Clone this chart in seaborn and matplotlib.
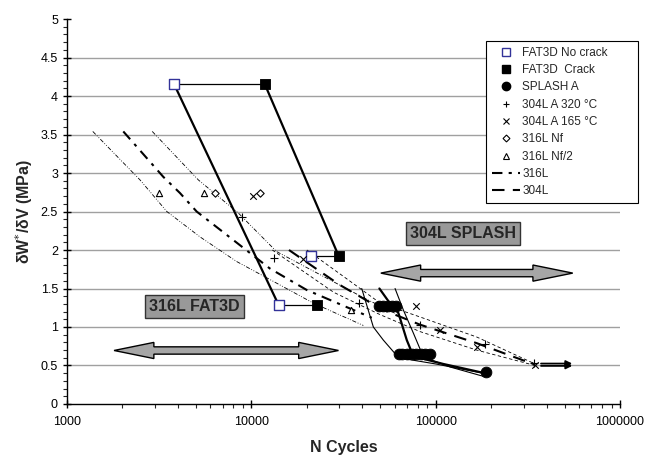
import matplotlib
matplotlib.use('Agg')
import matplotlib.pyplot as plt
import seaborn as sns
import numpy as np
from matplotlib.lines import Line2D
from matplotlib.patches import Polygon
from matplotlib.ticker import MultipleLocator, LogLocator, NullFormatter, FuncFormatter

# ---- data ----
# FAT3D tests (open = no crack, filled = crack)
nocrack_n = [3800, 21100, 14100]
nocrack_w = [4.16, 1.92, 1.28]
crack_n = [11800, 29800, 22700]
crack_w = [4.16, 1.92, 1.28]

# SPLASH A points
splash_n = [49500, 52000, 55400, 58000, 61000,
            63000, 66000, 70000, 74000, 78000, 83000, 88000, 93000, 188000]
splash_w = [1.27, 1.27, 1.27, 1.27, 1.27,
            0.65, 0.65, 0.65, 0.65, 0.65, 0.65, 0.65, 0.65, 0.41]

# SPLASH curves (thin solid + one thick)
splash_a_n = [39700, 45900, 52000, 57000, 63000, 100000, 180000]
splash_a_w = [1.50, 1.00, 0.83, 0.72, 0.60, 0.52, 0.40]
splash_b_n = [49500, 56000, 62800, 69700, 75700, 110000, 185000]
splash_b_w = [1.50, 1.32, 1.18, 0.83, 0.62, 0.52, 0.40]
splash_c_n = [60200, 66800, 75700, 85800, 120000, 181000]
splash_c_w = [1.50, 1.22, 0.92, 0.61, 0.48, 0.36]

# 304L A 320 C (+) and 165 C (x)
a320_n = [8870, 13300, 38400, 82300, 184000, 340000]
a320_w = [2.43, 1.90, 1.31, 1.03, 0.78, 0.53]
a165_n = [10200, 19000, 78300, 105600, 167000, 346000]
a165_w = [2.70, 1.88, 1.27, 0.96, 0.74, 0.50]

# 316L Nf (diamond) and Nf/2 (triangle)
nf_n = [6350, 11100]
nf_w = [2.74, 2.74]
nf2_n = [3170, 5560, 34800]
nf2_w = [2.74, 2.74, 1.22]

# 316L curves: mean (thick dash-dot) and bounds (thin)
l316_n = [2020, 3330, 4100, 5050, 7980, 12600, 20000, 34300, 45000]
l316_w = [3.54, 2.95, 2.74, 2.50, 2.13, 1.76, 1.48, 1.24, 1.12]
l316_lo_n = [1380, 2490, 3480, 5270, 8330, 13700, 21700, 40500]
l316_lo_w = [3.54, 2.91, 2.50, 2.17, 1.85, 1.57, 1.31, 1.02]
l316_hi_n = [2900, 5160, 8500, 13700, 41400, 60000]
l316_hi_w = [3.54, 2.91, 2.48, 1.98, 1.37, 1.18]

# 304L curves: mean (thick dashed) and bounds (thin dashed)
l304_n = [16000, 30000, 52000, 82300, 167000, 346000]
l304_w = [2.00, 1.55, 1.22, 1.03, 0.79, 0.51]
l304_hi_n = [20000, 35000, 50000, 82300, 167000, 346000]
l304_hi_w = [2.00, 1.58, 1.31, 1.13, 0.87, 0.52]
l304_lo_n = [13000, 28000, 50000, 82300, 167000, 346000]
l304_lo_w = [2.00, 1.45, 1.16, 0.94, 0.70, 0.50]

grid_levels = [0.5, 1.0, 1.5, 2.0, 2.5, 3.0, 3.5, 4.0, 4.5]

sns.set_style('white')
plt.rcParams['font.family'] = ['Liberation Sans', 'DejaVu Sans']

fig, ax = plt.subplots(figsize=(6.46, 4.55), dpi=100)
fig.subplots_adjust(left=0.1037, right=0.9598, bottom=0.1121, top=0.9582)
ax.set_xscale('log')
ax.set_xlim(1000, 1000000)
ax.set_ylim(0, 5)

for g in grid_levels:
    ax.axhline(g, color='#a0a0a0', lw=1.0, zorder=0)

dashdot_thin = (0, (5, 2, 1, 2, 1, 2))
dashdot_thick = (0, (5, 3, 1.5, 3))
dashed = (0, (6, 4))

# 316L curves
sns.lineplot(x=l316_lo_n, y=l316_lo_w, ax=ax, color='k', lw=0.6, linestyle=dashdot_thin, sort=False, estimator=None)
sns.lineplot(x=l316_hi_n, y=l316_hi_w, ax=ax, color='k', lw=0.6, linestyle=dashdot_thin, sort=False, estimator=None)
sns.lineplot(x=l316_n, y=l316_w, ax=ax, color='k', lw=1.5, linestyle=dashdot_thick, sort=False, estimator=None)

# 304L curves
sns.lineplot(x=l304_lo_n, y=l304_lo_w, ax=ax, color='k', lw=0.6, linestyle=(0, (4, 3)), sort=False, estimator=None)
sns.lineplot(x=l304_hi_n, y=l304_hi_w, ax=ax, color='k', lw=0.6, linestyle=(0, (4, 3)), sort=False, estimator=None)
sns.lineplot(x=l304_n, y=l304_w, ax=ax, color='k', lw=1.5, linestyle=dashed, sort=False, estimator=None)

# SPLASH curves
sns.lineplot(x=splash_a_n, y=splash_a_w, ax=ax, color='k', lw=0.8, sort=False, estimator=None)
sns.lineplot(x=splash_b_n, y=splash_b_w, ax=ax, color='k', lw=1.6, sort=False, estimator=None)
sns.lineplot(x=splash_c_n, y=splash_c_w, ax=ax, color='k', lw=0.8, sort=False, estimator=None)

# FAT3D connecting lines
sns.lineplot(x=[nocrack_n[0], nocrack_n[2]], y=[nocrack_w[0], nocrack_w[2]], ax=ax, color='k', lw=1.6, sort=False, estimator=None)
sns.lineplot(x=[crack_n[0], crack_n[1]], y=[crack_w[0], crack_w[1]], ax=ax, color='k', lw=1.6, sort=False, estimator=None)
for i in range(3):
    sns.lineplot(x=[nocrack_n[i], crack_n[i]], y=[nocrack_w[i], crack_w[i]], ax=ax, color='k', lw=0.9, sort=False, estimator=None)

# markers
sns.scatterplot(x=nocrack_n, y=nocrack_w, ax=ax, marker='s', s=60, facecolor='white', edgecolor='#333399', linewidth=1.0, zorder=5)
sns.scatterplot(x=crack_n, y=crack_w, ax=ax, marker='s', s=60, color='k', edgecolor='k', zorder=5)
sns.scatterplot(x=splash_n, y=splash_w, ax=ax, marker='o', s=60, color='k', edgecolor='k', zorder=5)
sns.scatterplot(x=a320_n, y=a320_w, ax=ax, marker='+', s=28, color='k', linewidth=0.8, zorder=5)
sns.scatterplot(x=a165_n, y=a165_w, ax=ax, marker='x', s=22, color='k', linewidth=0.8, zorder=5)
sns.scatterplot(x=nf_n, y=nf_w, ax=ax, marker='D', s=14, facecolor='white', edgecolor='k', linewidth=0.8, zorder=5)
sns.scatterplot(x=nf2_n, y=nf2_w, ax=ax, marker='^', s=20, facecolor='white', edgecolor='k', linewidth=0.8, zorder=5)


def fat_arrow(x0, x1, y, head=0.072, hh=0.021, sh=0.0095):
    # double headed gray arrow in axes fraction coordinates
    a = (np.log10(x0) - 3) / 3
    b = (np.log10(x1) - 3) / 3
    yy = y / 5
    verts = [(a, yy), (a + head, yy + hh), (a + head, yy + sh), (b - head, yy + sh),
             (b - head, yy + hh), (b, yy), (b - head, yy - hh), (b - head, yy - sh),
             (a + head, yy - sh), (a + head, yy - hh)]
    ax.add_patch(Polygon(verts, closed=True, transform=ax.transAxes,
                         facecolor='#a6a6a6', edgecolor='k', lw=1.0, zorder=4))


fat_arrow(50400, 554000, 1.70)
fat_arrow(1800, 29700, 0.695)

box = dict(boxstyle='square,pad=0.25', facecolor='#999999', edgecolor='#333333', lw=1.0)
ax.text(140000, 2.22, '304L SPLASH', ha='center', va='center', fontsize=11.5, fontweight='bold', bbox=box, zorder=6)
ax.text(4930, 1.26, '316L FAT3D', ha='center', va='center', fontsize=11.5, fontweight='bold', bbox=box, zorder=6)

# small black arrows at the end of the 304L curves
for yv in [0.525, 0.495]:
    ax.annotate('', xy=(570000, yv), xytext=(360000, yv),
                arrowprops=dict(arrowstyle='-|>', color='k', lw=1.3, mutation_scale=9))

# axes styling
for s in ['top', 'right']:
    ax.spines[s].set_visible(False)
for s in ['left', 'bottom']:
    ax.spines[s].set_color('k')
    ax.spines[s].set_linewidth(1.0)

ax.yaxis.set_major_locator(MultipleLocator(0.5))
ax.yaxis.set_minor_locator(MultipleLocator(0.1))
ax.yaxis.set_major_formatter(FuncFormatter(lambda v, p: f'{v:g}'))
ax.xaxis.set_major_locator(LogLocator(base=10))
ax.xaxis.set_minor_locator(LogLocator(base=10, subs=np.arange(2, 10)))
ax.xaxis.set_minor_formatter(NullFormatter())
ax.xaxis.set_major_formatter(FuncFormatter(lambda v, p: f'{int(round(v))}'))
ax.tick_params(axis='both', which='major', direction='inout', length=6, width=1.0, labelsize=9, colors='k', left=True, bottom=True)
ax.tick_params(axis='both', which='minor', direction='out', length=3, width=0.8, left=True, bottom=True)
ax.tick_params(axis='x', pad=6)

ax.set_xlabel('N Cycles', fontsize=11.5, fontweight='bold', labelpad=8)
ax.set_ylabel('δW$^{*}$/δV (MPa)', fontsize=11.5, fontweight='bold')

handles = [
    Line2D([], [], ls='none', marker='s', ms=6, mfc='white', mec='#333399', mew=1.0),
    Line2D([], [], ls='none', marker='s', ms=6, mfc='k', mec='k'),
    Line2D([], [], ls='none', marker='o', ms=6, mfc='k', mec='k'),
    Line2D([], [], ls='none', marker='+', ms=5, mec='k', mew=0.8),
    Line2D([], [], ls='none', marker='x', ms=4.5, mec='k', mew=0.8),
    Line2D([], [], ls='none', marker='D', ms=3.5, mfc='white', mec='k', mew=0.8),
    Line2D([], [], ls='none', marker='^', ms=4.5, mfc='white', mec='k', mew=0.8),
    Line2D([], [], color='k', lw=1.5, ls=dashdot_thick),
    Line2D([], [], color='k', lw=1.5, ls=dashed),
]
labels = ['FAT3D No crack', 'FAT3D  Crack', 'SPLASH A', '304L A 320 °C', '304L A 165 °C',
          '316L Nf', '316L Nf/2', '316L', '304L']
leg_w = 0.2754
leg_h = 0.42
leg = ax.legend(handles, labels, loc='upper left', bbox_to_anchor=(0.757, 0.943 - leg_h, leg_w, leg_h),
                mode='expand', fontsize=8.5,
                frameon=True, fancybox=False, edgecolor='k', framealpha=1, borderpad=0.5,
                labelspacing=0.45, handlelength=2.4, handletextpad=0.2, borderaxespad=0)
leg.get_frame().set_linewidth(0.8)
leg.set_zorder(10)

fig.savefig('out.png', dpi=100)
